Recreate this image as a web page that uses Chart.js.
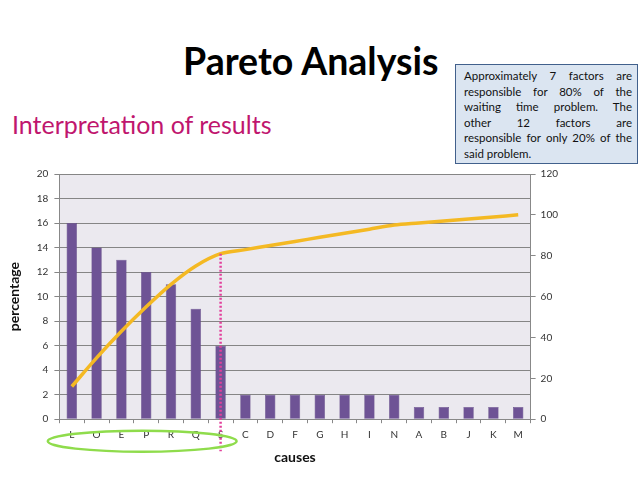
<!DOCTYPE html>
<html>
<head>
<meta charset="utf-8">
<script src="https://cdn.jsdelivr.net/npm/chart.js@4.4.1/dist/chart.umd.min.js"></script>
<style>
  body { margin: 0; width: 638px; height: 479px; background: #fff; position: relative; overflow: hidden; font-family: Lato, "Open Sans", sans-serif; }
  #title { position: absolute; left: 183px; top: 38px; font-size: 37.5px; font-weight: bold; color: #000; }
  #sub { position: absolute; left: 12px; top: 109px; font-size: 25px; color: #c0166e; }
  #note { position: absolute; left: 455px; top: 64px; width: 168px; height: 92px; padding: 3px 5px 3px 8px; background: #dbe5f1; border: 1px solid #41608c; font-size: 11.5px; line-height: 15.6px; color: #111; z-index: 2; }
  #note div { text-align: justify; text-align-last: justify; white-space: nowrap; }
  #note div.last { text-align-last: left; }
  #wrap { position: absolute; left: 0; top: 160px; width: 638px; height: 319px; }
</style>
</head>
<body>
<div id="title">Pareto Analysis</div>
<div id="sub">Interpretation of results</div>
<div id="note">
  <div>Approximately 7 factors are</div>
  <div>responsible for 80% of the</div>
  <div>waiting time problem. The</div>
  <div>other 12 factors are</div>
  <div>responsible for only 20% of the</div>
  <div class="last">said problem.</div>
</div>
<div id="wrap"><canvas id="paretoChart"></canvas></div>
<script>
var causes = ["L", "O", "E", "P", "R", "Q", "S", "C", "D", "F", "G", "H", "I", "N", "A", "B", "J", "K", "M"];
var percentage = [16, 14, 13, 12, 11, 9, 6, 2, 2, 2, 2, 2, 2, 2, 1, 1, 1, 1, 1];
var cumulative = [16, 30, 43, 55, 66, 75, 81, 83, 85, 87, 89, 91, 93, 95, 96, 97, 98, 99, 100];
var leftTicks = [0, 2, 4, 6, 8, 10, 12, 14, 16, 18, 20];
var rightTicks = [0, 20, 40, 60, 80, 100, 120];
var vitalFew = 7; // first 7 causes make ~80%

// plot background, dotted cut-off line and the green ring round the vital few
var extras = {
  id: "extras",
  beforeDraw: function (chart) {
    var a = chart.chartArea, ctx = chart.ctx;
    ctx.save();
    ctx.fillStyle = "#ebe9ef";
    ctx.fillRect(a.left, a.top, a.right - a.left, a.bottom - a.top);
    ctx.restore();
  },
  afterDraw: function (chart) {
    var ctx = chart.ctx, x = chart.scales.x, y2 = chart.scales.y2;
    var cutX = x.getPixelForValue(vitalFew - 1);
    var cutY = y2.getPixelForValue(cumulative[vitalFew - 1]);
    ctx.save();
    ctx.strokeStyle = "#e2409c";
    ctx.lineWidth = 2.5;
    ctx.setLineDash([2, 2]);
    ctx.beginPath();
    ctx.moveTo(cutX, cutY);
    ctx.lineTo(cutX, chart.chartArea.bottom + 32);
    ctx.stroke();
    ctx.setLineDash([]);
    var x0 = x.getPixelForValue(0) - 24, x1 = cutX + 16;
    ctx.strokeStyle = "#8fdc4c";
    ctx.lineWidth = 2.5;
    ctx.beginPath();
    ctx.ellipse((x0 + x1) / 2, chart.chartArea.bottom + 22, (x1 - x0) / 2, 10.5, 0, 0, Math.PI * 2);
    ctx.stroke();
    ctx.restore();
  },
};

var ctx = document.getElementById("paretoChart").getContext("2d");
var tickFont = { family: "Lato, 'Open Sans', sans-serif", size: 10 };
var chart = new Chart(ctx, {
  data: {
    labels: causes,
    datasets: [
      {
        type: "line",
        label: "cumulative",
        data: cumulative,
        yAxisID: "y2",
        borderColor: "#f4b923",
        borderWidth: 3.5,
        pointRadius: 0,
        tension: 0.3,
        fill: false,
      },
      {
        type: "bar",
        label: "percentage",
        data: percentage,
        yAxisID: "y",
        backgroundColor: "#6e5395",
        borderColor: "#5a437d",
        borderWidth: 0.5,
        barPercentage: 0.42,
        categoryPercentage: 1,
      },
    ],
  },
  options: {
    responsive: true,
    maintainAspectRatio: false,
    animation: false,
    layout: { padding: { top: 14, right: 75, left: 2, bottom: 9 } },
    plugins: { legend: { display: false }, tooltip: { enabled: false } },
    scales: {
      x: {
        grid: { display: true, offset: true, drawOnChartArea: false, color: "#888", tickLength: 4 },
        border: { color: "#888" },
        ticks: { color: "#333", font: tickFont, padding: 6, maxRotation: 0 },
        title: { display: true, text: "causes", color: "#111", font: { family: "Lato, sans-serif", size: 14, weight: "bold" }, padding: { top: 2 } },
      },
      y: {
        position: "left",
        min: 0,
        max: 20,
        afterBuildTicks: function (s) { s.ticks = leftTicks.map(function (v) { return { value: v }; }); },
        grid: { color: "#858585", tickLength: 5 },
        border: { color: "#888" },
        ticks: { color: "#333", font: tickFont, padding: 6 },
        title: { display: true, text: "percentage", color: "#111", font: { family: "Lato, sans-serif", size: 14, weight: "bold" }, padding: { bottom: 8 } },
      },
      y2: {
        position: "right",
        min: 0,
        max: 120,
        afterBuildTicks: function (s) { s.ticks = rightTicks.map(function (v) { return { value: v }; }); },
        grid: { drawOnChartArea: false, color: "#888", tickLength: 5 },
        border: { color: "#888" },
        ticks: { color: "#333", font: tickFont, padding: 5 },
      },
    },
  },
  plugins: [extras],
});
</script>
</body>
</html>
